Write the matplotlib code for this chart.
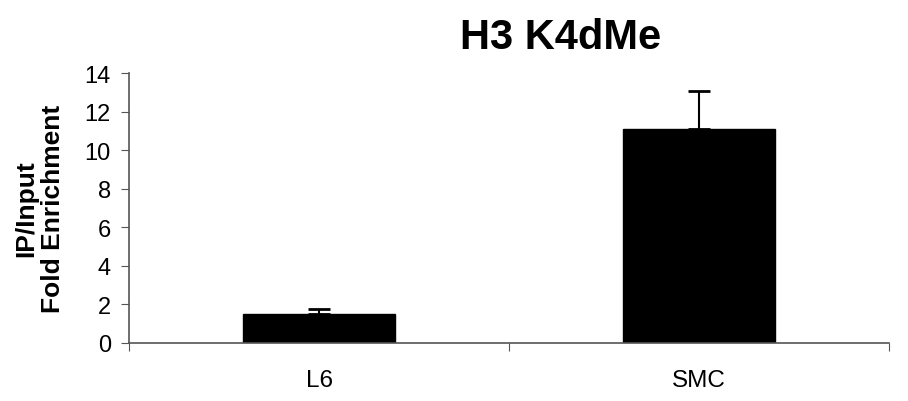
import matplotlib.pyplot as plt

plt.rcParams['font.family'] = ['Liberation Sans', 'DejaVu Sans']

cells = ['L6', 'SMC']
enrichment = [1.5, 11.1]
err_up = [0.27, 1.95]

fig = plt.figure(figsize=(9.08, 4.02), dpi=100)
ax = fig.add_axes([0.1421, 0.1443, 0.837, 0.6716])

x = range(len(cells))
ax.bar(x, enrichment, width=0.4, color='black', edgecolor='black')
ax.errorbar(x, enrichment, yerr=[[0] * len(err_up), err_up], fmt='none',
            ecolor='black', elinewidth=1.5, capsize=8, capthick=2)

ax.set_xlim(-0.5, 1.5)
ax.set_ylim(0, 14)
ax.set_yticks(range(0, 15, 2))
ax.set_xticks([-0.5, 0.5, 1.5])
ax.set_xticklabels([])
ax.set_xticks(list(x), minor=True)
ax.set_xticklabels(cells, minor=True)
ax.tick_params(axis='x', which='minor', length=0, pad=19, labelsize=17.5)
ax.tick_params(axis='x', which='major', length=6, direction='out', color='#555555')
ax.tick_params(axis='y', length=6, direction='out', labelsize=17, color='#555555', pad=7)

for s in ['top', 'right']:
    ax.spines[s].set_visible(False)
for s in ['left', 'bottom']:
    ax.spines[s].set_color('#555555')
    ax.spines[s].set_linewidth(1.2)

fig.text(0.617, 0.905, 'H3 K4dMe', ha='center', va='center',
         fontsize=30, fontweight='bold')
ax.set_ylabel('IP/Input\nFold Enrichment', fontsize=19, fontweight='bold',
              labelpad=14, linespacing=1.15)

fig.savefig('out.png', dpi=100)
